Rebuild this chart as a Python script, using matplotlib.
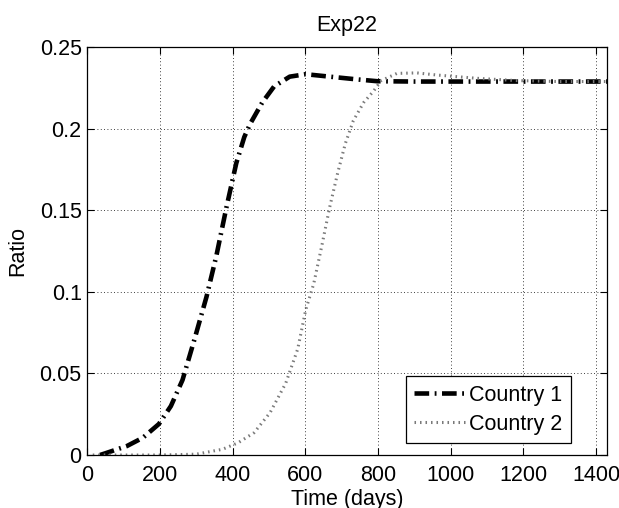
import matplotlib
matplotlib.use('Agg')
import matplotlib.pyplot as plt

plt.rcParams['font.family'] = ['Liberation Sans', 'DejaVu Sans']

# Country 1 (traco-ponto)
dias1 = [35, 49, 109, 153, 197, 230, 262, 295, 328, 355, 383, 410, 432, 448, 481, 514, 557, 601, 667, 743, 798, 900, 1100, 1300, 1440]
razao1 = [0.0, 0.001, 0.0055, 0.0106, 0.019, 0.030, 0.046, 0.071, 0.097, 0.122, 0.152, 0.179, 0.195, 0.203, 0.216, 0.226, 0.232, 0.2335, 0.232, 0.2303, 0.2292, 0.229, 0.229, 0.229, 0.229]

# Country 2 (pontilhado)
dias2 = [15, 200, 300, 372, 415, 459, 503, 546, 579, 601, 623, 645, 667, 689, 710, 732, 760, 787, 809, 852, 907, 962, 1071, 1180, 1300, 1440]
razao2 = [0.0, 0.0, 0.0005, 0.0035, 0.0075, 0.0137, 0.026, 0.044, 0.065, 0.089, 0.105, 0.128, 0.152, 0.173, 0.191, 0.205, 0.216, 0.223, 0.2296, 0.234, 0.2343, 0.233, 0.231, 0.2296, 0.229, 0.229]

fs = 15.5

fig = plt.figure(figsize=(6.19, 5.08), dpi=100)
ax = fig.add_axes([87.3/619, 1 - 455/508, (607-87.3)/619, (455-47.3)/508])

ax.plot(dias1, razao1, color='black', linewidth=3.3, linestyle=(0, (3.2, 1.2, 0.4, 1.2)), label='Country 1')
ax.plot(dias2, razao2, color='#7a7a7a', linewidth=2.2, linestyle=(0, (0.5, 1.3)), label='Country 2')

ax.set_xlim(0, 1430)
ax.set_ylim(0, 0.25)
ax.set_xticks(range(0, 1401, 200))
ax.set_yticks([0, 0.05, 0.1, 0.15, 0.2, 0.25])
ax.set_yticklabels(['0', '0.05', '0.1', '0.15', '0.2', '0.25'])
ax.grid(True, color='black', linestyle=(0, (1, 3)), linewidth=0.6)
ax.tick_params(direction='in', top=True, right=True, labelsize=fs, length=5, width=0.8)
ax.tick_params(axis='x', pad=7)
ax.tick_params(axis='y', pad=4)
for s in ax.spines.values():
    s.set_linewidth(0.9)

ax.set_xlabel('Time (days)', fontsize=fs, labelpad=2)
ax.set_ylabel('Ratio', fontsize=fs, labelpad=8)
ax.set_title('Exp22', fontsize=fs, pad=12)

leg = ax.legend(loc='lower right', bbox_to_anchor=(0.931, 0.029), borderaxespad=0,
                fontsize=fs, fancybox=False, framealpha=1, edgecolor='black',
                handlelength=2.35, handletextpad=0.2, labelspacing=0.35, borderpad=0.4)
leg.get_frame().set_linewidth(0.9)

fig.savefig('out.png', dpi=100)
